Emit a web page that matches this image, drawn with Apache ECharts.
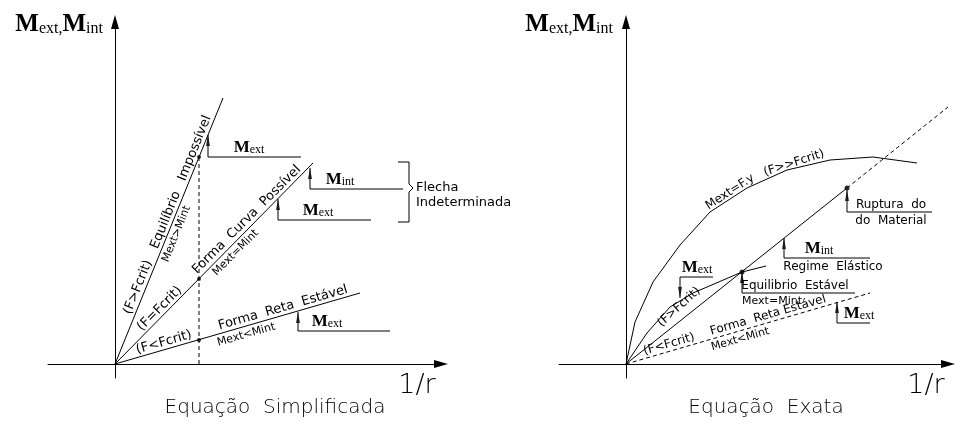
<!DOCTYPE html>
<html>
<head>
<meta charset="utf-8">
<script src="https://cdn.jsdelivr.net/npm/echarts@6/dist/echarts.min.js"></script>
<style>
html, body { margin: 0; padding: 0; background: #fff; }
#main { width: 955px; height: 424px; }
</style>
</head>
<body>
<div id="main"></div>
<script>
// units: 1 = 10 px, origin where the two axes cross

// -- Equação Simplificada (left)
var leftSteep = [[0, 0], [10.8, 26.6]];
var leftMid = [[0, 0], [19.8, 20.1]];
var leftLow = [[0, 0], [24.5, 7.1]];
var leftCrit = [[8.4, 0], [8.4, 20.7]];
var leftDots = [[8.4, 20.7], [8.4, 8.5], [8.4, 2.4]];
// leader: [x, arrow tip y, foot y, foot end x]
var leftLeaders = [[9.3, 22.9, 20.7, 18.6], [19.5, 19.6, 17.5, 28.8], [16.3, 16.5, 14.4, 25.6], [18.3, 5.2, 3.3, 27.5]];
var leftBrace = [[28.3, 20.2], [29.4, 20.2], [29.4, 18.0], [29.8, 17.6], [29.4, 17.2], [29.4, 14.2], [28.3, 14.2]];

// -- Equação Exata (right)
var rightLow = [[0, 0], [24.4, 7.1]];
var rightElastic = [[0, 0], [22.1, 17.6]];
var rightBeyond = [[22.1, 17.6], [32.2, 25.7]];
var rightFcrit = [[0, 0], [2.1, 3.1], [4.4, 5.7], [6.7, 7.1], [11.6, 9.2], [14.0, 9.8]];
var rightFy = [[0, 0], [0.9, 4.2], [2.7, 8.2], [5.4, 11.9], [8.4, 15.2], [12.1, 17.6], [16.1, 19.4], [20.4, 20.4], [24.7, 20.7], [29.1, 20.1]];
var rightDots = [[22.1, 17.6], [11.6, 9.2]];
var rightLeaders = [[5.4, 6.6, 8.7, 8.7], [11.6, 9.2, 7.1, 22.9], [15.8, 12.6, 10.6, 24.4], [22.1, 17.4, 15.2, 30.6], [21.1, 6.2, 4.1, 24.4]];

// texts: [text, x, y, angle, anchor, kind]
// anchor b = sits above the point, t = hangs below it, m = centred, l/r = left/right aligned
var leftNotes = [
    ['(F>Fcrit)', 3.0, 7.4, 68, 'b', 'cad'],
    ['Equilíbrio   Impossível', 7.3, 17.9, 68, 'b', 'cad'],
    ['Mext>Mint', 5.4, 13.3, 68, 't', 'small'],
    ['(F=Fcrit)', 5.0, 5.0, 45, 'b', 'cad'],
    ['Forma  Curva  Possível', 13.7, 13.9, 45, 'b', 'cad'],
    ['Mext=Mint', 11.5, 11.7, 45, 't', 'small'],
    ['(F<Fcrit)', 5.1, 1.45, 16, 'b', 'cad'],
    ['Forma  Reta  Estável', 17.0, 4.9, 16, 'b', 'cad'],
    ['Mext<Mint', 12.9, 3.7, 16, 't', 'small'],
    ['{M|M}{s|ext}', 13.4, 20.7, 0, 'b', 'sym'],
    ['{M|M}{s|int}', 22.5, 17.5, 0, 'b', 'sym'],
    ['{M|M}{s|ext}', 20.3, 14.4, 0, 'b', 'sym'],
    ['{M|M}{s|ext}', 21.2, 3.3, 0, 'b', 'sym'],
    ['Flecha', 30.1, 17.6, 0, 'l', 'cad'],
    ['Indeterminada', 30.1, 16.1, 0, 'l', 'cad'],
    ['{M|M}{s|ext,}{M|M}{s|int}', -1.2, 33.9, 0, 'r', 'title'],
    ['1/r', 30.2, -2.2, 0, 'm', 'ratio'],
    ['Equação  Simplificada', 16.0, -4.4, 0, 'm', 'cap']
];
var rightNotes = [
    ['(F<Fcrit)', 4.5, 1.3, 16, 'b', 'cadr'],
    ['Forma  Reta Estável', 14.4, 4.2, 16, 'b', 'cadr'],
    ['Mext<Mint', 11.2, 3.25, 16, 't', 'small'],
    ['(F>Fcrit)', 5.3, 5.7, 42, 'm', 'cadr'],
    ['Mext=F.y', 10.4, 17.2, 33, 'm', 'cadr'],
    ['(F>>Fcrit)', 16.8, 20.1, 18, 'm', 'cadr'],
    ['{M|M}{s|ext}', 7.1, 8.7, 0, 'b', 'sym'],
    ['Equilibrio  Estável', 16.9, 7.1, 0, 'b', 'cadr'],
    ['Mext=Mint', 14.6, 7.1, 0, 't', 'small'],
    ['{M|M}{s|int}', 19.3, 10.6, 0, 'b', 'sym'],
    ['Regime  Elástico', 20.7, 10.6, 0, 't', 'cadr'],
    ['Ruptura  do', 26.5, 15.2, 0, 'b', 'cadr'],
    ['do  Material', 26.5, 15.2, 0, 't', 'cadr'],
    ['{M|M}{s|ext}', 23.3, 4.1, 0, 'b', 'sym'],
    ['{M|M}{s|ext,}{M|M}{s|int}', -1.3, 33.9, 0, 'r', 'title'],
    ['1/r', 30.0, -2.2, 0, 'm', 'ratio'],
    ['Equação  Exata', 14.0, -4.4, 0, 'm', 'cap']
];

var sans = '"DejaVu Sans", sans-serif';
var serif = '"Liberation Serif", "Times New Roman", serif';
var kinds = {
    cad: { fontFamily: sans, fontSize: 13 },
    cadr: { fontFamily: sans, fontSize: 12 },
    small: { fontFamily: sans, fontSize: 11 },
    cap: { fontFamily: sans, fontSize: 20, fontWeight: 200 },
    ratio: { fontFamily: sans, fontSize: 27, fontWeight: 200 },
    sym: {
        rich: {
            M: { fontFamily: serif, fontWeight: 'bold', fontSize: 17, verticalAlign: 'bottom', lineHeight: 17 },
            s: { fontFamily: serif, fontSize: 12, verticalAlign: 'bottom', lineHeight: 16 }
        }
    },
    title: {
        rich: {
            M: { fontFamily: serif, fontWeight: 'bold', fontSize: 25, verticalAlign: 'bottom', lineHeight: 24 },
            s: { fontFamily: serif, fontSize: 16, verticalAlign: 'bottom', lineHeight: 22 }
        }
    }
};

function axis(grid, min, max) {
    return {
        type: 'value', gridIndex: grid, min: min, max: max,
        axisLine: { onZero: true, symbol: ['none', 'triangle'], symbolSize: [8, 14], lineStyle: { color: '#000', width: 1 } },
        axisTick: { show: false },
        axisLabel: { show: false },
        splitLine: { show: false }
    };
}

function line(grid, data, dashed) {
    return {
        type: 'line', xAxisIndex: grid, yAxisIndex: grid, data: data,
        symbol: 'none', silent: true, clip: false,
        lineStyle: { color: '#000', width: 1, type: dashed ? [4, 3] : 'solid' }
    };
}

function dots(grid, data, size) {
    return {
        type: 'scatter', xAxisIndex: grid, yAxisIndex: grid, data: data,
        symbol: 'circle', symbolSize: size, silent: true,
        itemStyle: { color: '#000' }
    };
}

function leaders(grid, list) {
    var out = [];
    var heads = [];
    list.forEach(function (l) {
        out.push(line(grid, [[l[0], l[1]], [l[0], l[2]], [l[3], l[2]]]));
        var up = l[1] > l[2];
        heads.push({ value: [l[0], l[1]], symbolRotate: up ? 0 : 180, symbolOffset: [0, up ? '50%' : '-50%'] });
    });
    out.push({
        type: 'scatter', xAxisIndex: grid, yAxisIndex: grid, data: heads,
        symbol: 'triangle', symbolSize: [4, 11], silent: true,
        itemStyle: { color: '#000' }
    });
    return out;
}

var chart = echarts.init(document.getElementById('main'));
var option = {
    animation: false,
    backgroundColor: '#fff',
    grid: [
        { left: 48, top: 22, width: 393, height: 356 },
        { left: 559, top: 22, width: 389, height: 356 }
    ],
    xAxis: [axis(0, -6.7, 32.6), axis(1, -6.7, 32.2)],
    yAxis: [axis(0, -1.4, 34.2), axis(1, -1.4, 34.2)],
    series: [
        line(0, leftSteep), line(0, leftMid), line(0, leftLow),
        line(0, leftCrit, true), line(0, leftBrace),
        dots(0, leftDots, 4),
        line(1, rightLow, true), line(1, rightElastic), line(1, rightBeyond, true),
        line(1, rightFcrit), line(1, rightFy),
        dots(1, rightDots, 5)
    ].concat(leaders(0, leftLeaders), leaders(1, rightLeaders))
};
chart.setOption(option);

function notes(grid, list) {
    return list.map(function (n) {
        var p = chart.convertToPixel({ gridIndex: grid }, [n[1], n[2]]);
        var a = n[4];
        var rad = n[3] * Math.PI / 180;
        var st = Object.assign({ text: n[0], fill: '#000' }, kinds[n[5]]);
        st.align = a === 'l' ? 'left' : (a === 'r' ? 'right' : 'center');
        st.verticalAlign = 'middle';
        if (a === 'b' || a === 't') {
            // push the text centre off the line, perpendicular to it
            var fs = st.fontSize || 17;
            var d = a === 'b' ? -(0.5 * fs + 1) : (0.55 * fs + 2);
            p = [p[0] + d * Math.sin(rad), p[1] + d * Math.cos(rad)];
        }
        return { type: 'text', x: p[0], y: p[1], rotation: rad, silent: true, style: st };
    });
}

chart.setOption({ graphic: notes(0, leftNotes).concat(notes(1, rightNotes)) });
</script>
</body>
</html>
